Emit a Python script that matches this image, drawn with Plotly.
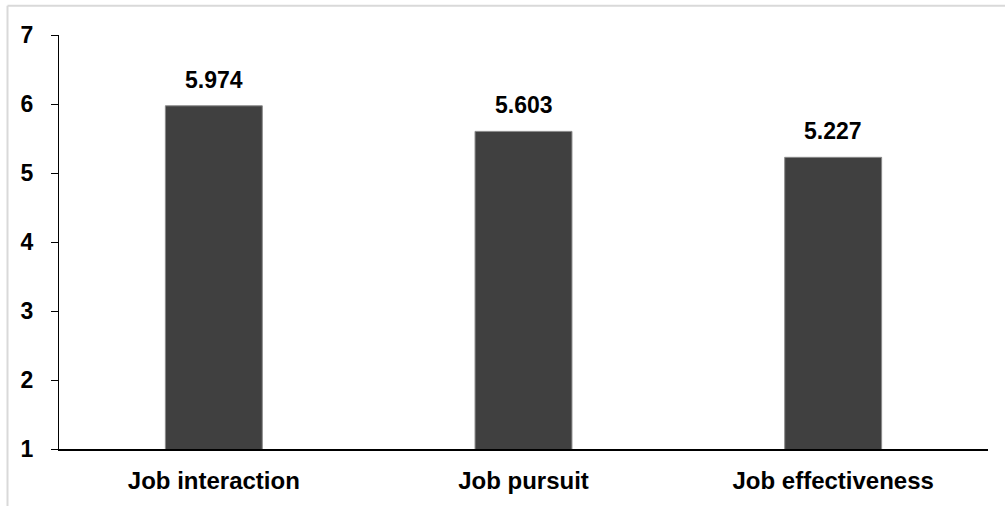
import plotly.graph_objects as go

categories = ["Job interaction", "Job pursuit", "Job effectiveness"]
values = [5.974, 5.603, 5.227]
value_labels = ["5.974", "5.603", "5.227"]
y_ticks = [1, 2, 3, 4, 5, 6, 7]

W, H = 1005, 506
L, R, T, B = 59, 17, 35, 54
pw, ph = W - L - R, H - T - B
FONT = "Liberation Sans, Arial"

fig = go.Figure()
fig.add_trace(go.Bar(
    x=categories, y=values, width=0.313,
    marker=dict(color="#404040", line=dict(color="#8a8a8a", width=1)),
    base=0,
))

for c, v, t in zip(categories, values, value_labels):
    fig.add_annotation(x=c, y=v, text="<b>%s</b>" % t, showarrow=False,
                       yanchor="bottom", yshift=11,
                       font=dict(family=FONT, size=23, color="#000"))

bx = (7.5 - L) / pw
by = (H - B - 5.5) / ph
fig.add_shape(type="line", xref="paper", yref="paper", x0=bx, x1=bx, y0=by, y1=-0.2,
              line=dict(color="#d9d9d9", width=2))
fig.add_shape(type="line", xref="paper", yref="paper", x0=bx, x1=1.1, y0=by, y1=by,
              line=dict(color="#d9d9d9", width=2))

fig.update_layout(
    width=W, height=H,
    margin=dict(l=L, r=R, t=T, b=B, pad=0),
    paper_bgcolor="white", plot_bgcolor="white",
    showlegend=False,
    font=dict(family=FONT, color="#000"),
    xaxis=dict(
        range=[-0.5, 2.5], showline=True, linecolor="#000", linewidth=1.5,
        ticks="", showgrid=False, zeroline=False,
        tickfont=dict(size=24, family=FONT, color="#000"),
        tickvals=categories, ticktext=["<b>%s</b>" % c for c in categories],
        ticklabelstandoff=9,
    ),
    yaxis=dict(
        range=[1, 7], tickvals=y_ticks, ticktext=["<b>%d</b>" % v for v in y_ticks],
        showline=True, linecolor="#000", linewidth=1,
        ticks="outside", ticklen=7, tickcolor="#000", tickwidth=1,
        showgrid=False, zeroline=False,
        tickfont=dict(size=23, family=FONT, color="#000"),
        ticklabelstandoff=13,
    ),
)

fig.write_html("out.html")
